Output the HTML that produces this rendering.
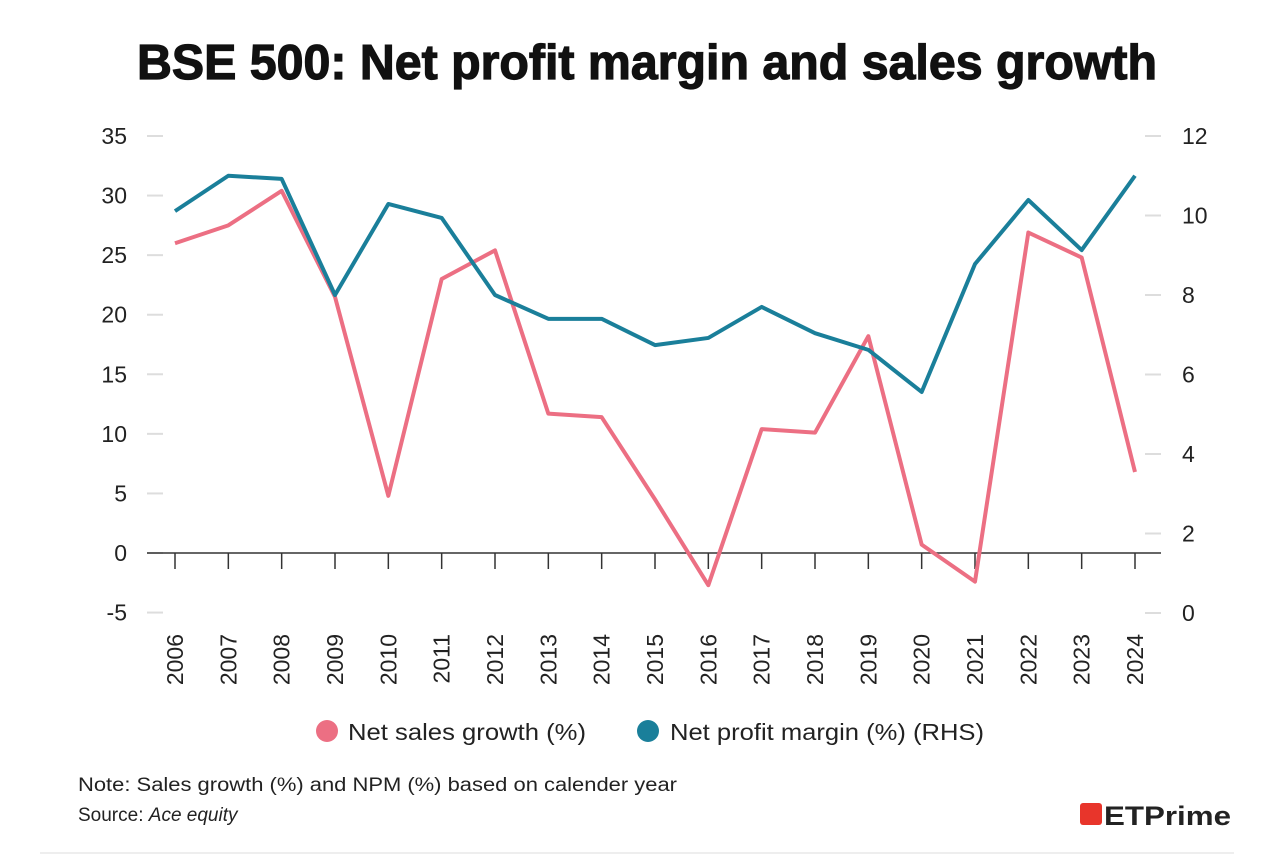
<!DOCTYPE html>
<html><head><meta charset="utf-8"><style>
body{margin:0;background:#fff;width:1274px;height:855px;overflow:hidden;font-family:"Liberation Sans",sans-serif}
</style></head><body>
<svg id="c" width="1274" height="855" font-family="Liberation Sans, sans-serif">
<text x="137" y="79" font-size="49" font-weight="bold" fill="#111" stroke="#111" stroke-width="1.2" textLength="1020" lengthAdjust="spacingAndGlyphs">BSE 500: Net profit margin and sales growth</text>
<g id="g"></g>
<g>
<circle cx="327" cy="731" r="11" fill="#ec6f83"/>
<text x="348" y="740" font-size="23" fill="#222" textLength="238" lengthAdjust="spacingAndGlyphs">Net sales growth (%)</text>
<circle cx="648" cy="731" r="11" fill="#1a7f9a"/>
<text x="670" y="740" font-size="23" fill="#222" textLength="314" lengthAdjust="spacingAndGlyphs">Net profit margin (%) (RHS)</text>
</g>
<text x="78" y="791" font-size="19" fill="#222" textLength="599" lengthAdjust="spacingAndGlyphs">Note: Sales growth (%) and NPM (%) based on calender year</text>
<text x="78" y="821" font-size="19" fill="#222">Source: <tspan font-style="italic">Ace equity</tspan></text>
<rect x="1080" y="803" width="22" height="22" rx="3" fill="#e8352b"/>
<text x="1104" y="825" font-size="27" font-weight="bold" fill="#222" textLength="127" lengthAdjust="spacingAndGlyphs">ETPrime</text>
<line x1="40" y1="853" x2="1234" y2="853" stroke="#eee" stroke-width="2"/>
</svg>
<script>
const years=[2006,2007,2008,2009,2010,2011,2012,2013,2014,2015,2016,2017,2018,2019,2020,2021,2022,2023,2024];
const salesGrowth=[26,27.5,30.4,21.5,4.8,23,25.4,11.7,11.4,4.5,-2.7,10.4,10.1,18.2,0.7,-2.4,26.9,24.8,6.8];
const npm=[10.11,11.0,10.92,8.0,10.29,9.94,8.0,7.4,7.4,6.74,6.92,7.7,7.04,6.62,5.56,8.78,10.39,9.13,11.0];
const leftTicks=[-5,0,5,10,15,20,25,30,35];
const rightTicks=[0,2,4,6,8,10,12];
const NS="http://www.w3.org/2000/svg";
const g=document.getElementById('g');
const x=i=>175+i*(960/(years.length-1));
const yL=v=>553-v*(417/35);
const yR=v=>613-v*(477/12);
function mk(t,a){const e=document.createElementNS(NS,t);for(const k in a)e.setAttribute(k,a[k]);g.appendChild(e);return e;}
leftTicks.forEach(v=>{
 const l=mk('line',{x1:147,x2:163,y1:yL(v),y2:yL(v),stroke:'#ddd','stroke-width':2});
 
 
 const t=mk('text',{x:127,y:yL(v)+8,'text-anchor':'end','font-size':23,fill:'#222'});t.textContent=v;
 
 
});
rightTicks.forEach(v=>{
 const l=mk('line',{x1:1145,x2:1161,y1:yR(v),y2:yR(v),stroke:'#ddd','stroke-width':2});
 
 
 const t=mk('text',{x:1182,y:yR(v)+8,'font-size':23,fill:'#222'});t.textContent=v;
 
 
});
const ax=mk('line',{x1:147,x2:1161,y1:yL(0),y2:yL(0),stroke:'#333','stroke-width':1.5});


years.forEach((yr,i)=>{
 const l=mk('line',{x1:x(i),x2:x(i),y1:yL(0),y2:yL(0)+16,stroke:'#333','stroke-width':1.5});
 
 
 const t=mk('text',{'font-size':23,fill:'#222','text-anchor':'end',transform:`translate(${x(i)+8},634) rotate(-90)`});
 t.textContent=yr;
 
 
});
const p1=mk('polyline',{points:salesGrowth.map((v,i)=>x(i)+','+yL(v)).join(' '),fill:'none',stroke:'#ec6f83','stroke-width':4,'stroke-linejoin':'round'});


const p2=mk('polyline',{points:npm.map((v,i)=>x(i)+','+yR(v)).join(' '),fill:'none',stroke:'#1a7f9a','stroke-width':4,'stroke-linejoin':'round'});


</script>
</body></html>
